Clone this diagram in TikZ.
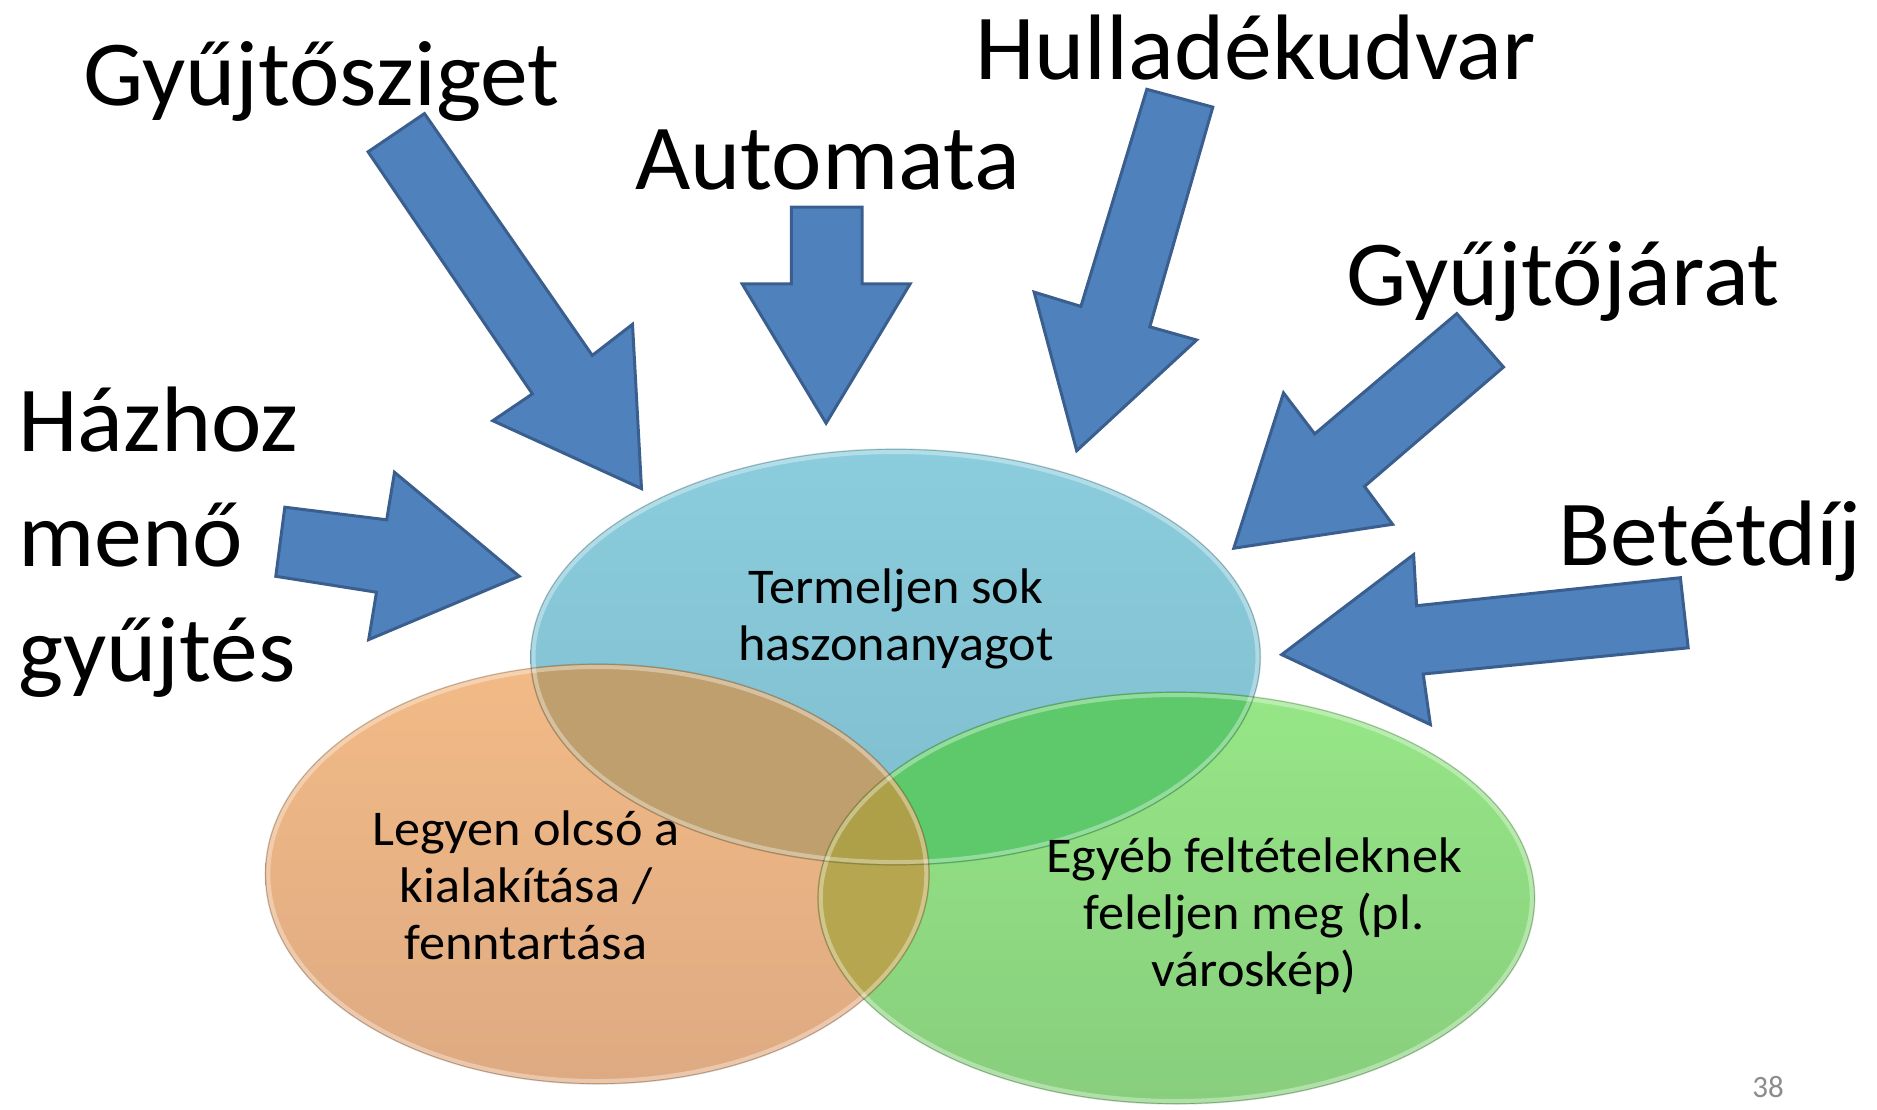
\documentclass[tikz,border=0pt]{standalone}
\usepackage{fontspec}
\setmainfont{Carlito}
\newfontfamily\bigfont{Carlito}[FakeStretch=1.028]
\newfontfamily\smallfont{Carlito}[FakeStretch=1.045]
\definecolor{arrfill}{HTML}{4F81BD}
\definecolor{arrline}{HTML}{3A5F8E}
\definecolor{btop}{HTML}{8BCDDD}
\definecolor{bbot}{HTML}{7FBDCD}
\definecolor{otop}{HTML}{F2BA86}
\definecolor{obot}{HTML}{DEAA82}
\definecolor{gtop}{HTML}{96E686}
\definecolor{gbot}{HTML}{88CE7D}
\definecolor{bocol}{HTML}{BF9F6E}
\definecolor{bgcol}{HTML}{5DC96B}
\definecolor{ogcol}{HTML}{B7A650}
\definecolor{tricol}{HTML}{AEA049}
\definecolor{pagenum}{HTML}{8C8C8C}
\begin{document}
\begin{tikzpicture}[x=1pt,y=-1pt,
  bigtxt/.style={font=\bigfont\fontsize{93}{115}\selectfont, inner sep=0pt, anchor=base west},
  smalltxt/.style={font=\smallfont\fontsize{50}{57}\selectfont, inner sep=0pt, anchor=base},
  blockarrow/.style={fill=arrfill, draw=arrline, line width=3pt, line join=miter},
  rim/.style={draw=black, draw opacity=0.18, line width=1.2pt},
  glow/.style={draw=white, draw opacity=0.35, line width=4pt}]
\path[use as bounding box] (0,0) rectangle (1877,1109);
\coordinate (cb) at (895.5,657);
\coordinate (co) at (597.3,874);
\coordinate (cg) at (1176.3,898);
% base ellipses
\shade[top color=btop, bottom color=bbot] (cb) ellipse [x radius=365, y radius=208];
\shade[top color=otop, bottom color=obot] (co) ellipse [x radius=332, y radius=210];
\shade[top color=gtop, bottom color=gbot] (cg) ellipse [x radius=358.5, y radius=206];
% orange-green overlap
\begin{scope}
  \clip (co) ellipse [x radius=332, y radius=210];
  \fill[ogcol] (cg) ellipse [x radius=358.5, y radius=206];
\end{scope}
% overlaps with blue
\begin{scope}
  \clip (cb) ellipse [x radius=365, y radius=208];
  \fill[bocol] (co) ellipse [x radius=332, y radius=210];
  \fill[bgcol] (cg) ellipse [x radius=358.5, y radius=206];
  \clip (co) ellipse [x radius=332, y radius=210];
  \fill[tricol] (cg) ellipse [x radius=358.5, y radius=206];
\end{scope}
% rims
\draw[glow] (cb) ellipse [x radius=362, y radius=205];
\draw[glow] (co) ellipse [x radius=329, y radius=207];
\draw[glow] (cg) ellipse [x radius=355.5, y radius=203];
\draw[rim] (cb) ellipse [x radius=365, y radius=208];
\draw[rim] (co) ellipse [x radius=332, y radius=210];
\draw[rim] (cg) ellipse [x radius=358.5, y radius=206];
% ellipse texts
\node[smalltxt] (tb) at (896,603) {\begin{tabular}[t]{@{}c@{}}Termeljen sok\\haszonanyagot\end{tabular}};
\node[smalltxt] (to) at (526,845) {\begin{tabular}[t]{@{}c@{}}Legyen olcsó a\\kialakítása /\\fenntartása\end{tabular}};
\node[smalltxt] (tg) at (1254,872) {\begin{tabular}[t]{@{}c@{}}Egyéb feltételeknek\\feleljen meg (pl.\\városkép)\end{tabular}};
% block arrows
\draw[blockarrow] (424.5,113.6) -- (368.1,151.8) -- (532.4,393.9) -- (492.8,420.7) -- (641.5,488.6) -- (632.5,324.3) -- (592.3,355.4) -- cycle;
\draw[blockarrow] (791.4,207.1) -- (862.1,207.1) -- (862.1,283.9) -- (910.1,283.9) -- (826.1,423.2) -- (742.2,283.9) -- (791.4,283.9) -- cycle;
\draw[blockarrow] (284.8,507.2) -- (386.7,519.8) -- (394.5,472.3) -- (519.2,576.3) -- (368.7,639.6) -- (376.5,592.2) -- (275.8,576.3) -- cycle;
\draw[blockarrow] (1146.8,89.3) -- (1212.8,107.1) -- (1149.8,326.8) -- (1196.6,340) -- (1076.7,450.7) -- (1034.1,292.1) -- (1080.9,306.4) -- cycle;
\draw[blockarrow] (1456.8,313.6) -- (1503.5,367.1) -- (1364.5,486.4) -- (1392.6,524.3) -- (1233.8,548.2) -- (1283.5,392.9) -- (1314.7,433.9) -- cycle;
\draw[blockarrow] (1680.4,577.7) -- (1688.2,647.8) -- (1423.2,674) -- (1430.4,724.6) -- (1281.7,654.6) -- (1413.6,554.6) -- (1416.6,605.7) -- cycle;
% labels
\node[bigtxt] (lgy) at (83,105) {Gyűjtősziget};
\node[bigtxt] (lau) at (635,189) {Automata};
\node[bigtxt] (lhu) at (975,79) {Hulladékudvar};
\node[bigtxt] (lgj) at (1346,305) {Gyűjtőjárat};
\node[bigtxt] (lbe) at (1558,565) {Betétdíj};
\node[bigtxt] (lha) at (18,451) {\begin{tabular}[t]{@{}l@{}}Házhoz\\menő\\gyűjtés\end{tabular}};
\node[font=\fontsize{31}{36}\selectfont, text=pagenum, inner sep=0pt, anchor=base] (pg) at (1768,1097) {38};
\end{tikzpicture}
\end{document}
